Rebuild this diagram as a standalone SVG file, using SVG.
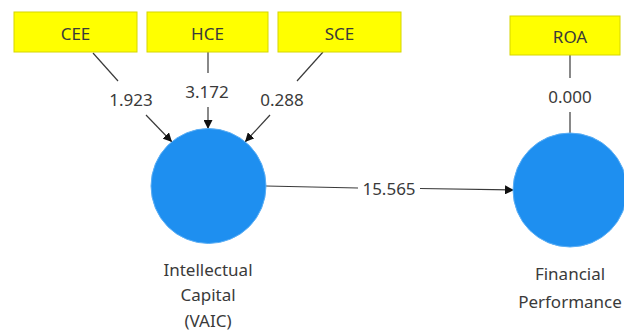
<svg xmlns="http://www.w3.org/2000/svg" width="624" height="334" viewBox="0 0 624 334">
<style>
.box{fill:#ffff00;stroke:#d6d600;stroke-width:1}
.lv{fill:#1e8ff0;stroke:#5aaef5;stroke-width:1}
.t{font-family:"Noto Sans","Open Sans",sans-serif;font-size:17px;fill:#3a3a3a;text-anchor:middle}
.ln{stroke:#3a3a3a;stroke-width:1.2;fill:none}
</style>
<defs>
<marker id="ah" viewBox="0 0 10 10" refX="10" refY="5" markerWidth="9" markerHeight="9" markerUnits="userSpaceOnUse" orient="auto">
<path d="M0,0 L10,5 L0,10 z" fill="#111"/>
</marker>
</defs>
<rect width="624" height="334" fill="#fff"/>
<g id="connectors">
<line class="ln" x1="93" y1="53" x2="118" y2="81"/>
<line class="ln" x1="146" y1="115" x2="172" y2="142" marker-end="url(#ah)"/>
<text class="t" x="131" y="106">1.923</text>
<line class="ln" x1="208" y1="52" x2="208" y2="73"/>
<line class="ln" x1="208" y1="107" x2="208" y2="129" marker-end="url(#ah)"/>
<text class="t" x="207" y="98">3.172</text>
<line class="ln" x1="323" y1="52" x2="297" y2="81"/>
<line class="ln" x1="270" y1="115" x2="245" y2="142" marker-end="url(#ah)"/>
<text class="t" x="282" y="106">0.288</text>
<line class="ln" x1="266" y1="186" x2="358" y2="188"/>
<line class="ln" x1="420" y1="188.5" x2="514" y2="190" marker-end="url(#ah)"/>
<text class="t" x="389" y="195">15.565</text>
<line class="ln" x1="570" y1="55" x2="570" y2="78"/>
<line class="ln" x1="570" y1="112" x2="570" y2="133"/>
<text class="t" x="570" y="103">0.000</text>
</g>
<g id="CEE"><rect class="box" x="14" y="12" width="123" height="40"/><text class="t" x="75.5" y="40">CEE</text></g>
<g id="HCE"><rect class="box" x="147" y="12" width="121" height="40"/><text class="t" x="207.5" y="40">HCE</text></g>
<g id="SCE"><rect class="box" x="278" y="12" width="123" height="40"/><text class="t" x="339.5" y="40">SCE</text></g>
<g id="ROA"><rect class="box" x="510" y="16" width="110" height="39"/><text class="t" x="570" y="43">ROA</text></g>
<g id="IC"><circle class="lv" cx="208.5" cy="186" r="57.5"/>
<text class="t" x="208" y="276">Intellectual</text>
<text class="t" x="208" y="301">Capital</text>
<text class="t" x="208" y="327">(VAIC)</text></g>
<g id="FP"><circle class="lv" cx="570" cy="190" r="57"/>
<text class="t" x="570" y="280">Financial</text>
<text class="t" x="570" y="308">Performance</text></g>
</svg>
